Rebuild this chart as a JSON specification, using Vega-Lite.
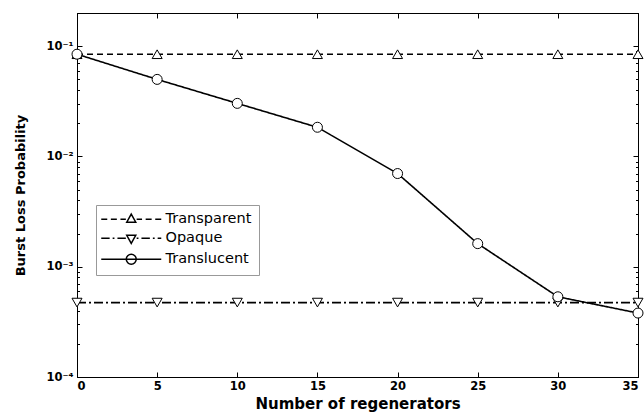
{
  "$schema": "https://vega.github.io/schema/vega-lite/v6.json",
  "autosize": {"type": "none"},
  "padding": {"left": 77, "top": 13, "right": 6, "bottom": 37},
  "width": 561,
  "height": 364,
  "background": "white",
  "config": {
    "view": {"stroke": "black", "strokeWidth": 1},
    "axis": {
      "grid": false,
      "domainColor": "black",
      "tickColor": "black",
      "labelColor": "black",
      "titleColor": "black",
      "labelFont": "DejaVu Sans",
      "labelFontWeight": "bold",
      "labelFontSize": 11.5,
      "titleFont": "DejaVu Sans",
      "titleFontWeight": "bold",
      "titleFontSize": 15
    },
    "legend": {
      "labelFont": "DejaVu Sans",
      "labelFontSize": 14.5,
      "labelColor": "black"
    }
  },
  "data": {
    "values": [
      {"series": "Transparent", "x": 0, "y": 0.0846},
      {"series": "Transparent", "x": 5, "y": 0.0846},
      {"series": "Transparent", "x": 10, "y": 0.0846},
      {"series": "Transparent", "x": 15, "y": 0.0846},
      {"series": "Transparent", "x": 20, "y": 0.0846},
      {"series": "Transparent", "x": 25, "y": 0.0846},
      {"series": "Transparent", "x": 30, "y": 0.0846},
      {"series": "Transparent", "x": 35, "y": 0.0846},
      {"series": "Opaque", "x": 0, "y": 0.000473},
      {"series": "Opaque", "x": 5, "y": 0.000473},
      {"series": "Opaque", "x": 10, "y": 0.000473},
      {"series": "Opaque", "x": 15, "y": 0.000473},
      {"series": "Opaque", "x": 20, "y": 0.000473},
      {"series": "Opaque", "x": 25, "y": 0.000473},
      {"series": "Opaque", "x": 30, "y": 0.000473},
      {"series": "Opaque", "x": 35, "y": 0.000473},
      {"series": "Translucent", "x": 0, "y": 0.0846},
      {"series": "Translucent", "x": 5, "y": 0.050},
      {"series": "Translucent", "x": 10, "y": 0.0303},
      {"series": "Translucent", "x": 15, "y": 0.0184},
      {"series": "Translucent", "x": 20, "y": 0.0070},
      {"series": "Translucent", "x": 25, "y": 0.00162},
      {"series": "Translucent", "x": 30, "y": 0.000534},
      {"series": "Translucent", "x": 35, "y": 0.00038}
    ]
  },
  "resolve": {
    "axis": {"x": "independent", "y": "independent"},
    "scale": {"shape": "independent"},
    "legend": {"shape": "independent"}
  },
  "layer": [
    {
      "mark": {"type": "line", "color": "black", "strokeWidth": 1.6},
      "encoding": {
        "x": {
          "field": "x", "type": "quantitative",
          "scale": {"domain": [0, 35], "nice": false, "zero": false},
          "axis": {
            "title": "Number of regenerators",
            "values": [0, 5, 10, 15, 20, 25, 30, 35],
            "tickSize": -5,
            "labelPadding": 8,
            "titlePadding": 5
          }
        },
        "y": {
          "field": "y", "type": "quantitative",
          "scale": {"type": "log", "domain": [0.0001, 0.2], "nice": false},
          "axis": {
            "title": "Burst Loss Probability",
            "titleFontSize": 13,
            "values": [0.0001, 0.0002, 0.0003, 0.0004, 0.0005, 0.0006, 0.0007, 0.0008, 0.0009, 0.001, 0.002, 0.003, 0.004, 0.005, 0.006, 0.007, 0.008, 0.009, 0.01, 0.02, 0.03, 0.04, 0.05, 0.06, 0.07, 0.08, 0.09, 0.1, 0.2],
            "labelExpr": "datum.value == 0.1 ? '10⁻¹' : datum.value == 0.01 ? '10⁻²' : datum.value == 0.001 ? '10⁻³' : datum.value == 0.0001 ? '10⁻⁴' : ''",
            "tickSize": {"condition": {"test": "datum.value == 0.1 || datum.value == 0.01 || datum.value == 0.001 || datum.value == 0.0001", "value": -5}, "value": -2.5},
            "labelPadding": 9,
            "titlePadding": 18
          }
        },
        "detail": {"field": "series"},
        "strokeDash": {
          "field": "series", "type": "nominal",
          "scale": {"domain": ["Transparent", "Opaque", "Translucent"], "range": [[6, 4], [9, 3, 2, 3], [1, 0]]},
          "legend": null
        }
      }
    },
    {
      "mark": {"type": "point", "filled": true, "fill": "white", "stroke": "black", "strokeWidth": 1, "size": 100, "opacity": 1},
      "encoding": {
        "x": {"field": "x", "type": "quantitative", "axis": null},
        "y": {"field": "y", "type": "quantitative", "axis": null},
        "shape": {
          "field": "series", "type": "nominal",
          "scale": {"domain": ["Transparent", "Opaque", "Translucent"], "range": ["triangle-up", "triangle-down", "circle"]},
          "legend": null
        }
      }
    },
    {
      "transform": [{"filter": "datum.x < 0"}],
      "mark": {"type": "point", "filled": false, "color": "black", "strokeWidth": 1.5, "size": 144, "opacity": 1},
      "encoding": {
        "x": {"field": "x", "type": "quantitative", "axis": null},
        "y": {"field": "y", "type": "quantitative", "axis": null},
        "shape": {
          "field": "series", "type": "nominal",
          "scale": {
            "domain": ["Transparent", "Opaque", "Translucent"],
            "range": [
              "M-5,0H-4M-3.4,0H-2.4M-1.8,0H-0.9M0.9,0H1.8M2.4,0H3.4M4,0H5M0,-0.85L0.75,0.5L-0.75,0.5Z",
              "M-5,0H-3.6M-3.1,0H-2.8M-2.3,0H-0.9M0.9,0H1.2M1.7,0H3.1M3.6,0H3.9M4.4,0H5M0,0.85L0.75,-0.5L-0.75,-0.5Z",
              "M-5,0H5M0.83,0A0.83,0.83 0 1,1 -0.83,0A0.83,0.83 0 1,1 0.83,0Z"
            ]
          },
          "legend": {
            "title": null,
            "orient": "none",
            "legendX": 19,
            "legendY": 192,
            "symbolSize": 144,
            "symbolOffset": 21,
            "labelOffset": 27,
            "padding": 7,
            "rowPadding": 4,
            "strokeColor": "#999999",
            "fillColor": "white",
            "symbolStrokeColor": "black",
            "symbolStrokeWidth": 1.5
          }
        }
      }
    },
    {
      "mark": {"type": "line", "opacity": 0},
      "encoding": {
        "x": {
          "field": "x", "type": "quantitative",
          "axis": {"orient": "top", "title": null, "labels": false, "values": [0, 5, 10, 15, 20, 25, 30, 35], "tickSize": -5}
        },
        "y": {
          "field": "y", "type": "quantitative",
          "axis": {
            "orient": "right", "title": null, "labels": false,
            "values": [0.0001, 0.0002, 0.0003, 0.0004, 0.0005, 0.0006, 0.0007, 0.0008, 0.0009, 0.001, 0.002, 0.003, 0.004, 0.005, 0.006, 0.007, 0.008, 0.009, 0.01, 0.02, 0.03, 0.04, 0.05, 0.06, 0.07, 0.08, 0.09, 0.1, 0.2],
            "tickSize": {"condition": {"test": "datum.value == 0.1 || datum.value == 0.01 || datum.value == 0.001 || datum.value == 0.0001", "value": -5}, "value": -2.5}
          }
        },
        "detail": {"field": "series"}
      }
    }
  ]
}
